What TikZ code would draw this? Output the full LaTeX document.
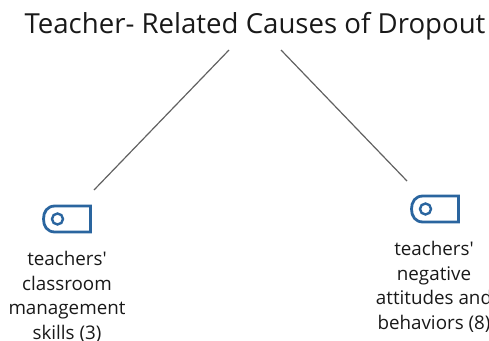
\documentclass[tikz,border=0pt]{standalone}
\usepackage{fontspec}
\newfontfamily\bodyfont{Open Sans}
\tikzset{
  titlenode/.style={inner sep=0pt,font=\bodyfont\fontsize{27.6}{32}\selectfont,text=black!90},
  labelnode/.style={inner sep=0pt,align=center,font=\bodyfont\fontsize{18.8}{24.6}\selectfont,text=black!90},
  linkline/.style={draw=black!62,line width=1.2pt},
  tagicon/.style={draw=tagblue,line width=2.8pt},
}
\definecolor{tagblue}{HTML}{2A659F}
\begin{document}
\begin{tikzpicture}[x=1pt,y=-1pt]
\useasboundingbox (0,0) rectangle (489,340);
\clip (0,0) rectangle (489,340);
\node[titlenode] (title) at (255,26) {Teacher- Related Causes of Dropout};
\coordinate (titleL) at (229,50);
\coordinate (titleR) at (281,50);
\coordinate (endL) at (94,190);
\coordinate (endR) at (407,181);
\draw[linkline] (titleL) -- (endL);
\draw[linkline] (titleR) -- (endR);
% left icon
\draw[tagicon] (90.5,206) -- (55,206) .. controls (47,206) and (43.5,212) .. (43.5,219) .. controls (43.5,226) and (47,232) .. (55,232) -- (90.5,232) -- cycle;
\node[tagicon,circle,minimum size=11pt,inner sep=0pt,line width=2.4pt] (iconL) at (57.5,219) {};
% right icon
\draw[tagicon] (458.5,196) -- (423,196) .. controls (415,196) and (411.5,202) .. (411.5,209) .. controls (411.5,216) and (415,222) .. (423,222) -- (458.5,222) -- cycle;
\node[tagicon,circle,minimum size=11pt,inner sep=0pt,line width=2.4pt] (iconR) at (425.5,209) {};
\node[labelnode] (labelL) at (67,297) {teachers'\\classroom\\management\\skills (3)};
\node[labelnode] (labelR) at (434,287) {teachers'\\negative\\attitudes and\\behaviors (8)};
\end{tikzpicture}
\end{document}
